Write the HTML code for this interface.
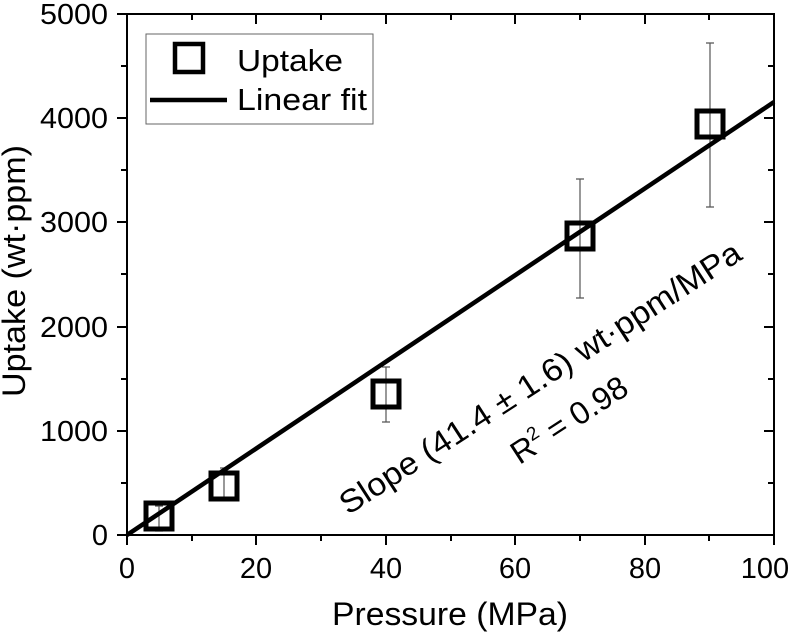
<!DOCTYPE html>
<html><head><meta charset="utf-8"><style>body{margin:0;background:#fff}svg{display:block}text{font-family:"Liberation Sans",Arial,sans-serif;fill:#000}</style></head><body>
<svg width="800" height="639" viewBox="0 0 800 639">
<g stroke="#000" stroke-width="2" fill="none">
<rect x="127" y="14" width="647" height="521"/>
<path d="M117 14H127M117 118H127M117 222H127M117 327H127M117 431H127M117 535H127M121 66H127M121 170H127M121 274H127M121 379H127M121 483H127"/>
<path d="M774 118H764M774 222H764M774 327H764M774 431H764M774 66H768M774 170H768M774 274H768M774 379H768M774 483H768"/>
<path d="M127 535V545M256 535V545M386 535V545M515 535V545M645 535V545M774 535V545M192 535V541M321 535V541M451 535V541M580 535V541M709 535V541"/>
<path d="M256 14V24M386 14V24M515 14V24M645 14V24M192 14V20M321 14V20M451 14V20M580 14V20M709 14V20"/>
</g>
<g font-size="29" text-anchor="end">
<text x="108" y="24" textLength="68" lengthAdjust="spacingAndGlyphs">5000</text>
<text x="108" y="128" textLength="68" lengthAdjust="spacingAndGlyphs">4000</text>
<text x="108" y="232" textLength="68" lengthAdjust="spacingAndGlyphs">3000</text>
<text x="108" y="337" textLength="68" lengthAdjust="spacingAndGlyphs">2000</text>
<text x="108" y="441" textLength="68" lengthAdjust="spacingAndGlyphs">1000</text>
<text x="108" y="545">0</text>
</g>
<g font-size="29" text-anchor="middle">
<text x="127" y="578">0</text><text x="256" y="578">20</text><text x="386" y="578">40</text><text x="515" y="578">60</text><text x="645" y="578">80</text><text x="765" y="578">100</text>
</g>
<text x="332" y="625" font-size="32" textLength="236" lengthAdjust="spacingAndGlyphs">Pressure (MPa)</text>
<text transform="translate(25,397) rotate(-90)" font-size="32" textLength="252" lengthAdjust="spacingAndGlyphs">Uptake (wt·ppm)</text>
<g stroke="#555" stroke-width="1.2" fill="none">
<path d="M159 506V531M155 506H163M155 531H163"/>
<path d="M224 468V500M220 468H228M220 500H228"/>
<path d="M386 367V422M382 367H390M382 422H390"/>
<path d="M580 179V298M576 179H584M576 298H584"/>
<path d="M710 43V207M706 43H714M706 207H714"/>
</g>
<line x1="127" y1="535" x2="774" y2="102" stroke="#000" stroke-width="4.5"/>
<g stroke="#000" stroke-width="5" fill="none">
<rect x="146" y="503" width="26" height="26"/>
<rect x="211" y="473" width="26" height="26"/>
<rect x="373" y="381" width="26" height="26"/>
<rect x="567" y="223" width="26" height="26"/>
<rect x="697" y="111" width="26" height="26"/>
</g>
<rect x="146" y="34" width="227" height="90" fill="#fff" stroke="#666" stroke-width="1"/>
<rect x="175" y="44" width="28" height="28" fill="none" stroke="#000" stroke-width="4.5"/>
<line x1="150" y1="100" x2="227" y2="100" stroke="#000" stroke-width="4.5"/>
<text x="237" y="71" font-size="31" textLength="106" lengthAdjust="spacingAndGlyphs">Uptake</text>
<text x="237" y="110" font-size="31" textLength="130" lengthAdjust="spacingAndGlyphs">Linear fit</text>
<text transform="translate(546,387) rotate(-33)" text-anchor="middle" font-size="32" textLength="472" lengthAdjust="spacingAndGlyphs">Slope (41.4 ± 1.6) wt·ppm/MPa</text>
<text transform="translate(575,429) rotate(-33)" text-anchor="middle" font-size="32">R<tspan font-size="19" dy="-13">2</tspan><tspan dy="13"> = 0.98</tspan></text>
</svg>
</body></html>
